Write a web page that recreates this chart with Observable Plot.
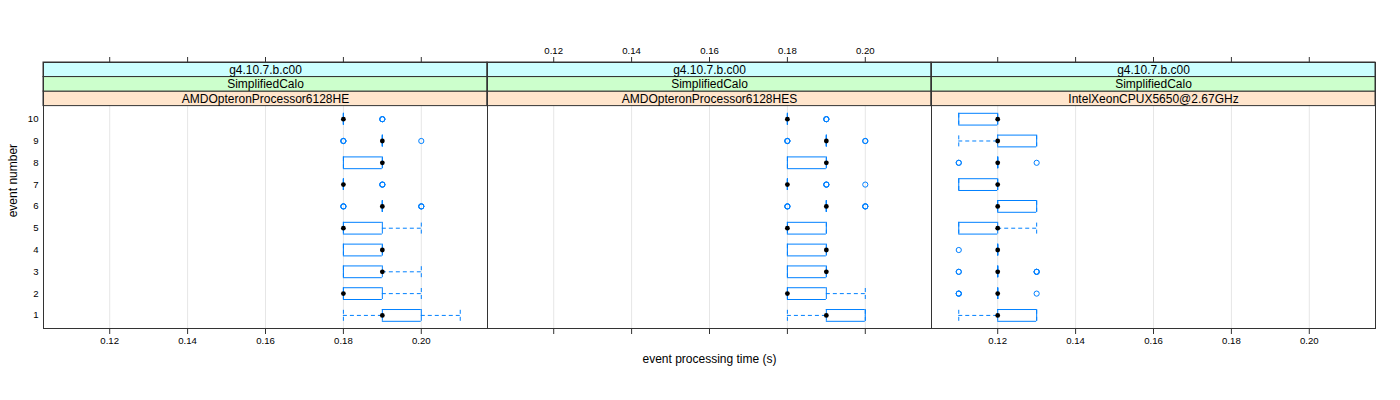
<!DOCTYPE html>
<html>
<head>
<meta charset="utf-8">
<script src="https://cdn.jsdelivr.net/npm/d3@7"></script>
<script src="https://cdn.jsdelivr.net/npm/@observablehq/plot@0.6"></script>
<style>
  html, body { margin: 0; padding: 0; background: #fff; }
  #chart svg { display: block; }
</style>
</head>
<body>
<div id="chart"></div>
<script>
// ---------- data ----------
const panelLabels = ["AMDOpteronProcessor6128HE", "AMDOpteronProcessor6128HES", "IntelXeonCPUX5650@2.67GHz"];
const stripPhysics = ["SimplifiedCalo", "SimplifiedCalo", "SimplifiedCalo"];
const stripVersion = ["g4.10.7.b.c00", "g4.10.7.b.c00", "g4.10.7.b.c00"];
const events = [1, 2, 3, 4, 5, 6, 7, 8, 9, 10];
const xTicks = [0.12, 0.14, 0.16, 0.18, 0.20];
const xTickLabels = ["0.12", "0.14", "0.16", "0.18", "0.20"];

// box statistics per panel, events 1..10
const lowerWhisker = [
  [0.18, 0.18, 0.18, 0.18, 0.18, 0.19, 0.18, 0.18, 0.19, 0.18],
  [0.18, 0.18, 0.18, 0.18, 0.18, 0.19, 0.18, 0.18, 0.19, 0.18],
  [0.11, 0.12, 0.12, 0.12, 0.11, 0.12, 0.11, 0.12, 0.11, 0.11]
];
const lowerHinge = [
  [0.19, 0.18, 0.18, 0.18, 0.18, 0.19, 0.18, 0.18, 0.19, 0.18],
  [0.19, 0.18, 0.18, 0.18, 0.18, 0.19, 0.18, 0.18, 0.19, 0.18],
  [0.12, 0.12, 0.12, 0.12, 0.11, 0.12, 0.11, 0.12, 0.12, 0.11]
];
const medians = [
  [0.19, 0.18, 0.19, 0.19, 0.18, 0.19, 0.18, 0.19, 0.19, 0.18],
  [0.19, 0.18, 0.19, 0.19, 0.18, 0.19, 0.18, 0.19, 0.19, 0.18],
  [0.12, 0.12, 0.12, 0.12, 0.12, 0.12, 0.12, 0.12, 0.12, 0.12]
];
const upperHinge = [
  [0.20, 0.19, 0.19, 0.19, 0.19, 0.19, 0.18, 0.19, 0.19, 0.18],
  [0.20, 0.19, 0.19, 0.19, 0.19, 0.19, 0.18, 0.19, 0.19, 0.18],
  [0.13, 0.12, 0.12, 0.12, 0.12, 0.13, 0.12, 0.12, 0.13, 0.12]
];
const upperWhisker = [
  [0.21, 0.20, 0.20, 0.19, 0.20, 0.19, 0.18, 0.19, 0.19, 0.18],
  [0.20, 0.20, 0.19, 0.19, 0.19, 0.19, 0.18, 0.19, 0.19, 0.18],
  [0.13, 0.12, 0.12, 0.12, 0.13, 0.13, 0.12, 0.12, 0.13, 0.12]
];
// outliers: panel index, event, time, number of coincident points
const outlierPanel = [0, 0, 0, 0, 0, 0, 1, 1, 1, 1, 1, 1, 1, 2, 2, 2, 2, 2, 2, 2];
const outlierEvent = [6, 6, 7, 9, 9, 10, 6, 6, 7, 7, 9, 9, 10, 2, 2, 3, 3, 4, 8, 8];
const outlierTime  = [0.18, 0.20, 0.19, 0.18, 0.20, 0.19, 0.18, 0.20, 0.19, 0.20, 0.18, 0.20, 0.19, 0.11, 0.13, 0.11, 0.13, 0.11, 0.11, 0.13];
const outlierCount = [3, 3, 3, 3, 1, 3, 3, 3, 3, 1, 3, 2, 3, 3, 1, 2, 3, 1, 2, 1];

// ---------- layout / style ----------
const boxColor = "#0080ff";
const stripColors = ["#ffe5cc", "#ccffcc", "#ccffff"];
const lineColor = "#333";
const xDomain = [0.103, 0.217];
const yTop = 10.6;           // top of data region in y units
const stripU = 2.0 / 3;       // strip height in y units
const h = 0.27;               // half box height in y units

const rows = panelLabels.flatMap((p, i) => events.map((e, j) => ({
  panel: p, event: e,
  lo: lowerWhisker[i][j], q1: lowerHinge[i][j], med: medians[i][j],
  q3: upperHinge[i][j], hi: upperWhisker[i][j]
})));

const outliers = [];
outlierPanel.forEach((pi, k) => {
  for (let c = 0; c < outlierCount[k]; c++) {
    outliers.push({panel: panelLabels[pi], event: outlierEvent[k], t: outlierTime[k]});
  }
});

const strips = panelLabels.flatMap((p, i) => [
  {panel: p, level: 0, label: panelLabels[i]},
  {panel: p, level: 1, label: stripPhysics[i]},
  {panel: p, level: 2, label: stripVersion[i]}
]);

const bottomLabelPanels = [panelLabels[0], panelLabels[2]];
const topLabelPanels = [panelLabels[1]];
const bottomLabels = bottomLabelPanels.flatMap(p => xTicks.map((v, k) => ({panel: p, v, s: xTickLabels[k]})));
const topLabels = topLabelPanels.flatMap(p => xTicks.map((v, k) => ({panel: p, v, s: xTickLabels[k]})));

const dash = "4,3";

const chart = Plot.plot({
  width: 1400,
  height: 400,
  marginLeft: 42,
  marginRight: 24,
  marginTop: 62,
  marginBottom: 72,
  style: {fontFamily: "'Liberation Sans', Arial, Helvetica, sans-serif", fontSize: "9.6px", background: "#fff", color: "#000"},
  fx: {domain: panelLabels, padding: 0, axis: null},
  x: {domain: xDomain, axis: null},
  y: {domain: [0.4, yTop + 3 * stripU], axis: null},
  color: {type: "identity"},
  marks: [
    Plot.gridX(xTicks, {stroke: "#e6e6e6", strokeOpacity: 1}),
    // strips
    Plot.rect(strips, {
      fx: "panel",
      x1: () => xDomain[0], x2: () => xDomain[1],
      y1: d => yTop + d.level * stripU, y2: d => yTop + (d.level + 1) * stripU,
      fill: d => stripColors[d.level], stroke: lineColor, strokeWidth: 1
    }),
    Plot.text(strips, {
      fx: "panel",
      x: () => (xDomain[0] + xDomain[1]) / 2,
      y: d => yTop + (d.level + 0.5) * stripU,
      text: "label", fontSize: 12, fill: "#000"
    }),
    // whiskers (dashed)
    Plot.ruleY(rows, {fx: "panel", y: "event", x1: "lo", x2: "q1", stroke: boxColor, strokeDasharray: dash}),
    Plot.ruleY(rows, {fx: "panel", y: "event", x1: "q3", x2: "hi", stroke: boxColor, strokeDasharray: dash}),
    Plot.ruleX(rows, {fx: "panel", x: "lo", y1: d => d.event - h, y2: d => d.event + h, stroke: boxColor, strokeDasharray: dash}),
    Plot.ruleX(rows, {fx: "panel", x: "hi", y1: d => d.event - h, y2: d => d.event + h, stroke: boxColor, strokeDasharray: dash}),
    // boxes
    Plot.ruleX(rows, {fx: "panel", x: "q1", y1: d => d.event - h, y2: d => d.event + h, stroke: boxColor}),
    Plot.ruleX(rows, {fx: "panel", x: "q3", y1: d => d.event - h, y2: d => d.event + h, stroke: boxColor}),
    Plot.ruleY(rows, {fx: "panel", y: d => d.event - h, x1: "q1", x2: "q3", stroke: boxColor}),
    Plot.ruleY(rows, {fx: "panel", y: d => d.event + h, x1: "q1", x2: "q3", stroke: boxColor}),
    // outliers
    Plot.dot(outliers, {fx: "panel", x: "t", y: "event", r: 2.6, stroke: boxColor, fill: "none", strokeWidth: 1}),
    // medians
    Plot.dot(rows, {fx: "panel", x: "med", y: "event", r: 2.4, fill: "#000"}),
    // frame
    Plot.frame({stroke: lineColor}),
    // axes
    Plot.axisX({anchor: "bottom", ticks: xTicks, tickSize: 6, tickFormat: () => "", label: null, stroke: lineColor}),
    Plot.axisX({anchor: "top", ticks: xTicks, tickSize: 6, tickFormat: () => "", label: null, stroke: lineColor}),
    Plot.text(bottomLabels, {fx: "panel", x: "v", frameAnchor: "bottom", dy: 15, text: "s", fontSize: 9.6, fill: "#000"}),
    Plot.text(topLabels, {fx: "panel", x: "v", frameAnchor: "top", dy: -15, text: "s", fontSize: 9.6, fill: "#000"}),
    Plot.axisY({ticks: events, tickSize: 0, tickPadding: 5, label: null, tickFormat: d => String(d), fontSize: 9.6, fill: "#000"}),
    Plot.text(["event processing time (s)"], {fx: () => panelLabels[1], frameAnchor: "bottom", dy: 34, text: d => d, fontSize: 12, fill: "#000"}),
    Plot.text(["event number"], {fx: () => panelLabels[0], y: () => 5.5, frameAnchor: "left", dx: -30, rotate: -90, text: d => d, fontSize: 12, fill: "#000"})
  ]
});

document.getElementById("chart").appendChild(chart);
</script>
</body>
</html>
